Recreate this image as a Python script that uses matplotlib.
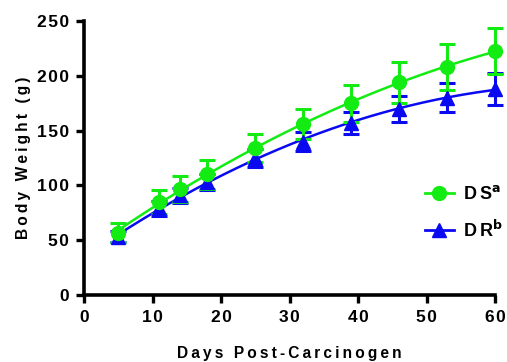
import numpy as np
import matplotlib
matplotlib.use("Agg")
import matplotlib.pyplot as plt
from matplotlib.lines import Line2D
from matplotlib.ticker import FuncFormatter

days = [5, 11, 14, 18, 25, 32, 39, 46, 53, 60]
ds_mean = [57, 85, 97, 110, 134, 156, 175, 194, 208, 223]
ds_err = [9, 11, 12, 13, 13, 14, 17, 19, 21, 21]
dr_mean = [53, 79, 91, 103, 125, 140, 157, 170, 180, 188]
dr_err = [5, 7, 7, 7, 8, 9, 10, 12, 13, 15]

green = "#13ec13"
blue = "#0a0af0"

plt.rcParams['font.family'] = ['Liberation Sans', 'DejaVu Sans']
plt.rcParams['font.weight'] = 'bold'

HAIR = "\u200a"
THIN = "\u2009"


def spaced(s, sep):
    return sep.join(s)


fig = plt.figure(figsize=(5.07, 3.62), dpi=100)
ax = fig.add_axes([84/507, 1-295/362, (495-84)/507, (295-21)/362])

xs = np.linspace(min(days), max(days), 200)
for mean, err, col, mk in [(dr_mean, dr_err, blue, '^'), (ds_mean, ds_err, green, 'o')]:
    coef = np.polyfit(days, mean, 2)
    ax.plot(xs, np.polyval(coef, xs), color=col, lw=1.8, zorder=2)
    ax.errorbar(days, mean, yerr=err, fmt=mk, color=col, ms=10, elinewidth=2.2,
                capsize=6, capthick=2.2, zorder=3, clip_on=False)

ax.set_xlim(0, 60)
ax.set_ylim(0, 250)
ax.set_xticks(range(0, 61, 10))
ax.set_yticks(range(0, 251, 50))
fmt = FuncFormatter(lambda v, p: spaced(str(int(v)), HAIR))
ax.xaxis.set_major_formatter(fmt)
ax.yaxis.set_major_formatter(fmt)
for s in ['top', 'right']:
    ax.spines[s].set_visible(False)
for s in ['left', 'bottom']:
    ax.spines[s].set_linewidth(2.6)
ax.tick_params(width=2.4, length=6, labelsize=12.5, pad=5)
for lab in ax.get_xticklabels() + ax.get_yticklabels():
    lab.set_fontweight('bold')

ax.set_ylabel(spaced("Body Weight (g)", THIN), fontsize=11.2, fontweight='bold', labelpad=4)
ax.set_xlabel(spaced("Days Post-Carcinogen", THIN), fontsize=11.2, fontweight='bold', labelpad=15)

handles = [Line2D([], [], color=green, marker='o', ms=10, lw=2),
           Line2D([], [], color=blue, marker='^', ms=10, lw=2)]
leg = ax.legend(handles, ["D" + THIN + r"S$^{\mathbf{a}}$", "D" + THIN + r"R$^{\mathbf{b}}$"],
                loc='center left', bbox_to_anchor=(0.79, 0.3), frameon=False, fontsize=13,
                handlelength=1.6, labelspacing=0.9, handletextpad=0.5)

fig.savefig("out.png", dpi=100)
